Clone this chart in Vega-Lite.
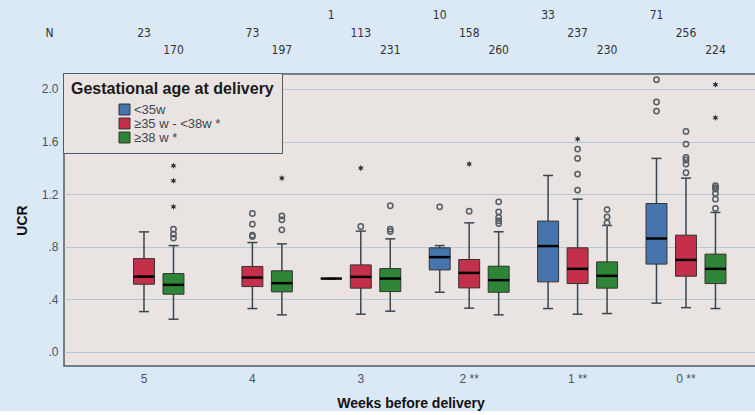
{
  "$schema": "https://vega.github.io/schema/vega-lite/v6.json",
  "background": "#dbe8f5",
  "padding": {"left": 14, "top": 0, "right": 0, "bottom": 0},
  "config": {
    "font": "Liberation Sans",
    "concat": {"spacing": 6}
  },
  "datasets": {
    "boxes": [
      {"week": 5, "group": "≥35 w - <38w *", "lo": 0.307, "q1": 0.515, "med": 0.573, "q3": 0.710, "hi": 0.913},
      {"week": 5, "group": "≥38 w *", "lo": 0.249, "q1": 0.439, "med": 0.510, "q3": 0.596, "hi": 0.809},
      {"week": 4, "group": "≥35 w - <38w *", "lo": 0.330, "q1": 0.497, "med": 0.566, "q3": 0.650, "hi": 0.832},
      {"week": 4, "group": "≥38 w *", "lo": 0.282, "q1": 0.457, "med": 0.523, "q3": 0.617, "hi": 0.822},
      {"week": 3, "group": "<35w", "lo": 0.558, "q1": 0.558, "med": 0.558, "q3": 0.558, "hi": 0.558},
      {"week": 3, "group": "≥35 w - <38w *", "lo": 0.287, "q1": 0.485, "med": 0.571, "q3": 0.662, "hi": 0.919},
      {"week": 3, "group": "≥38 w *", "lo": 0.310, "q1": 0.459, "med": 0.558, "q3": 0.634, "hi": 0.860},
      {"week": 2, "group": "<35w", "lo": 0.454, "q1": 0.624, "med": 0.721, "q3": 0.792, "hi": 0.809},
      {"week": 2, "group": "≥35 w - <38w *", "lo": 0.333, "q1": 0.487, "med": 0.601, "q3": 0.703, "hi": 0.982},
      {"week": 2, "group": "≥38 w *", "lo": 0.282, "q1": 0.454, "med": 0.546, "q3": 0.652, "hi": 0.914},
      {"week": 1, "group": "<35w", "lo": 0.330, "q1": 0.533, "med": 0.805, "q3": 0.995, "hi": 1.342},
      {"week": 1, "group": "≥35 w - <38w *", "lo": 0.287, "q1": 0.520, "med": 0.632, "q3": 0.792, "hi": 1.162},
      {"week": 1, "group": "≥38 w *", "lo": 0.292, "q1": 0.485, "med": 0.579, "q3": 0.685, "hi": 0.962},
      {"week": 0, "group": "<35w", "lo": 0.371, "q1": 0.668, "med": 0.863, "q3": 1.129, "hi": 1.472},
      {"week": 0, "group": "≥35 w - <38w *", "lo": 0.337, "q1": 0.576, "med": 0.700, "q3": 0.888, "hi": 1.322},
      {"week": 0, "group": "≥38 w *", "lo": 0.330, "q1": 0.520, "med": 0.632, "q3": 0.744, "hi": 1.061}
    ],
    "outliers": [
      {"week": 5, "group": "≥38 w *", "kind": "o", "v": 0.934},
      {"week": 5, "group": "≥38 w *", "kind": "o", "v": 0.896},
      {"week": 5, "group": "≥38 w *", "kind": "o", "v": 0.866},
      {"week": 5, "group": "≥38 w *", "kind": "*", "v": 1.416},
      {"week": 5, "group": "≥38 w *", "kind": "*", "v": 1.302},
      {"week": 5, "group": "≥38 w *", "kind": "*", "v": 1.104},
      {"week": 4, "group": "≥35 w - <38w *", "kind": "o", "v": 1.053},
      {"week": 4, "group": "≥35 w - <38w *", "kind": "o", "v": 0.972},
      {"week": 4, "group": "≥35 w - <38w *", "kind": "o", "v": 0.888},
      {"week": 4, "group": "≥35 w - <38w *", "kind": "o", "v": 0.878},
      {"week": 4, "group": "≥38 w *", "kind": "o", "v": 1.035},
      {"week": 4, "group": "≥38 w *", "kind": "o", "v": 1.005},
      {"week": 4, "group": "≥38 w *", "kind": "o", "v": 0.929},
      {"week": 4, "group": "≥38 w *", "kind": "*", "v": 1.322},
      {"week": 3, "group": "≥35 w - <38w *", "kind": "o", "v": 0.954},
      {"week": 3, "group": "≥35 w - <38w *", "kind": "*", "v": 1.398},
      {"week": 3, "group": "≥38 w *", "kind": "o", "v": 1.112},
      {"week": 3, "group": "≥38 w *", "kind": "o", "v": 0.934},
      {"week": 3, "group": "≥38 w *", "kind": "o", "v": 0.916},
      {"week": 2, "group": "<35w", "kind": "o", "v": 1.104},
      {"week": 2, "group": "≥35 w - <38w *", "kind": "o", "v": 1.071},
      {"week": 2, "group": "≥35 w - <38w *", "kind": "*", "v": 1.429},
      {"week": 2, "group": "≥38 w *", "kind": "o", "v": 1.142},
      {"week": 2, "group": "≥38 w *", "kind": "o", "v": 1.066},
      {"week": 2, "group": "≥38 w *", "kind": "o", "v": 1.023},
      {"week": 2, "group": "≥38 w *", "kind": "o", "v": 0.997},
      {"week": 2, "group": "≥38 w *", "kind": "o", "v": 0.977},
      {"week": 1, "group": "≥35 w - <38w *", "kind": "o", "v": 1.543},
      {"week": 1, "group": "≥35 w - <38w *", "kind": "o", "v": 1.472},
      {"week": 1, "group": "≥35 w - <38w *", "kind": "o", "v": 1.353},
      {"week": 1, "group": "≥35 w - <38w *", "kind": "o", "v": 1.231},
      {"week": 1, "group": "≥35 w - <38w *", "kind": "*", "v": 1.619},
      {"week": 1, "group": "≥38 w *", "kind": "o", "v": 1.083},
      {"week": 1, "group": "≥38 w *", "kind": "o", "v": 1.028},
      {"week": 1, "group": "≥38 w *", "kind": "o", "v": 0.982},
      {"week": 0, "group": "<35w", "kind": "o", "v": 2.071},
      {"week": 0, "group": "<35w", "kind": "o", "v": 1.901},
      {"week": 0, "group": "<35w", "kind": "o", "v": 1.832},
      {"week": 0, "group": "≥35 w - <38w *", "kind": "o", "v": 1.677},
      {"week": 0, "group": "≥35 w - <38w *", "kind": "o", "v": 1.581},
      {"week": 0, "group": "≥35 w - <38w *", "kind": "o", "v": 1.479},
      {"week": 0, "group": "≥35 w - <38w *", "kind": "o", "v": 1.460},
      {"week": 0, "group": "≥35 w - <38w *", "kind": "o", "v": 1.429},
      {"week": 0, "group": "≥35 w - <38w *", "kind": "o", "v": 1.363},
      {"week": 0, "group": "≥38 w *", "kind": "o", "v": 1.264},
      {"week": 0, "group": "≥38 w *", "kind": "o", "v": 1.250},
      {"week": 0, "group": "≥38 w *", "kind": "o", "v": 1.239},
      {"week": 0, "group": "≥38 w *", "kind": "o", "v": 1.205},
      {"week": 0, "group": "≥38 w *", "kind": "o", "v": 1.162},
      {"week": 0, "group": "≥38 w *", "kind": "o", "v": 1.091},
      {"week": 0, "group": "≥38 w *", "kind": "*", "v": 2.033},
      {"week": 0, "group": "≥38 w *", "kind": "*", "v": 1.781}
    ],
    "counts": [
      {"week": 5, "group": "≥35 w - <38w *", "n": 23},
      {"week": 5, "group": "≥38 w *", "n": 170},
      {"week": 4, "group": "≥35 w - <38w *", "n": 73},
      {"week": 4, "group": "≥38 w *", "n": 197},
      {"week": 3, "group": "<35w", "n": 1},
      {"week": 3, "group": "≥35 w - <38w *", "n": 113},
      {"week": 3, "group": "≥38 w *", "n": 231},
      {"week": 2, "group": "<35w", "n": 10},
      {"week": 2, "group": "≥35 w - <38w *", "n": 158},
      {"week": 2, "group": "≥38 w *", "n": 260},
      {"week": 1, "group": "<35w", "n": 33},
      {"week": 1, "group": "≥35 w - <38w *", "n": 237},
      {"week": 1, "group": "≥38 w *", "n": 230},
      {"week": 0, "group": "<35w", "n": 71},
      {"week": 0, "group": "≥35 w - <38w *", "n": 256},
      {"week": 0, "group": "≥38 w *", "n": 224}
    ]
  },
  "resolve": {"legend": {"color": "independent"}},
  "vconcat": [
    {
      "width": 693,
      "height": 65,
      "view": {"stroke": null, "fill": null},
      "data": {"name": "counts"},
      "mark": {"type": "text", "fontSize": 12, "color": "#333333", "font": "DejaVu Sans Condensed, Liberation Sans, sans-serif"},
      "encoding": {
        "x": {"field": "week", "type": "ordinal", "sort": [5, 4, 3, 2, 1, 0],
              "scale": {"paddingInner": 0.1, "paddingOuter": 0.2465, "align": 0.584},
              "axis": null},
        "xOffset": {"field": "group", "type": "nominal",
                    "scale": {"domain": ["<35w", "≥35 w - <38w *", "≥38 w *"], "paddingInner": 0.29, "paddingOuter": 0.299}},
        "y": {"field": "group", "type": "ordinal",
              "scale": {"type": "point", "domain": ["<35w", "≥35 w - <38w *", "≥38 w *"], "padding": 0.857},
              "axis": {"title": null, "domain": false, "ticks": false, "grid": false, "labelPadding": 11,
                       "labelFontSize": 12, "labelColor": "#333333", "labelFont": "DejaVu Sans Condensed, Liberation Sans, sans-serif",
                       "labelExpr": "datum.value == '≥35 w - <38w *' ? 'N' : ''"}},
        "text": {"field": "n", "type": "quantitative"}
      }
    },
    {
      "width": 693,
      "height": 292,
      "view": {"stroke": "#4d5d6a", "strokeWidth": 1.5, "fill": "#e9e3e1"},
      "encoding": {
        "x": {"field": "week", "type": "ordinal", "sort": [5, 4, 3, 2, 1, 0],
              "scale": {"paddingInner": 0.1, "paddingOuter": 0.2465, "align": 0.584},
              "axis": {"title": "Weeks before delivery", "titleFontSize": 14, "titleFontWeight": "bold", "titleColor": "#111111",
                       "titlePadding": 12, "labelAngle": 0, "labelFontSize": 12, "labelColor": "#4a5560", "labelPadding": 7,
                       "domain": false, "ticks": false, "grid": false,
                       "labelExpr": "datum.value <= 2 ? datum.value + ' **' : '' + datum.value"}},
        "xOffset": {"field": "group", "type": "nominal",
                    "scale": {"domain": ["<35w", "≥35 w - <38w *", "≥38 w *"], "paddingInner": 0.29, "paddingOuter": 0.299}}
      },
      "layer": [
        {
          "data": {"name": "boxes"},
          "mark": {"type": "rule", "color": "#3a4650", "strokeWidth": 1.5},
          "encoding": {
            "y": {"field": "lo", "type": "quantitative",
                  "scale": {"domain": [-0.107, 2.114], "nice": false, "zero": false},
                  "axis": {"values": [0, 0.4, 0.8, 1.2, 1.6, 2.0], "grid": true, "gridColor": "#b6c6d6", "gridWidth": 1,
                           "domain": false, "ticks": false, "labelPadding": 6, "labelFontSize": 12, "labelColor": "#4a5560",
                           "labelExpr": "datum.value < 1 ? slice(format(datum.value, '.1f'), 1) : format(datum.value, '.1f')",
                           "title": "UCR", "titleFontSize": 14, "titleFontWeight": "bold", "titleColor": "#111111", "titlePadding": 12}},
            "y2": {"field": "hi"}
          }
        },
        {
          "data": {"name": "boxes"},
          "mark": {"type": "point", "shape": "stroke", "filled": false, "size": 100, "stroke": "#3a4650", "strokeWidth": 1.5, "opacity": 1},
          "encoding": {"y": {"field": "hi", "type": "quantitative"}}
        },
        {
          "data": {"name": "boxes"},
          "mark": {"type": "point", "shape": "stroke", "filled": false, "size": 100, "stroke": "#3a4650", "strokeWidth": 1.5, "opacity": 1},
          "encoding": {"y": {"field": "lo", "type": "quantitative"}}
        },
        {
          "data": {"name": "boxes"},
          "mark": {"type": "bar", "stroke": "#333333", "strokeWidth": 1, "opacity": 1},
          "encoding": {
            "y": {"field": "q1", "type": "quantitative"},
            "y2": {"field": "q3"},
            "color": {"field": "group", "type": "nominal",
                      "scale": {"domain": ["<35w", "≥35 w - <38w *", "≥38 w *"], "range": ["#4674ad", "#c42f4a", "#2e8538"]},
                      "legend": {"title": "Gestational age at delivery", "orient": "none", "legendX": -1, "legendY": -1,
                                 "fillColor": "#e9e3e1", "strokeColor": "#4d5d6a", "padding": 8,
                                 "titleFontSize": 16, "titleFontWeight": "bold", "titleColor": "#1a1a1a", "titlePadding": 6,
                                 "titleLimit": 400, "labelLimit": 300,
                                 "labelFontSize": 13, "labelColor": "#3d4650", "symbolType": "square", "symbolSize": 120,
                                 "symbolStrokeColor": "#333333", "symbolStrokeWidth": 1, "rowPadding": -2,
                                 "symbolOffset": 47, "labelOffset": 3}}
          }
        },
        {
          "data": {"name": "boxes"},
          "mark": {"type": "point", "shape": "stroke", "filled": false, "size": 441, "stroke": "#000000", "strokeWidth": 2.5, "opacity": 1},
          "encoding": {"y": {"field": "med", "type": "quantitative"}}
        },
        {
          "data": {"name": "outliers"},
          "transform": [{"filter": "datum.kind == 'o'"}],
          "mark": {"type": "point", "shape": "circle", "filled": false, "size": 28, "stroke": "#555c63", "strokeWidth": 1.5, "opacity": 1},
          "encoding": {"y": {"field": "v", "type": "quantitative"}}
        },
        {
          "data": {"name": "outliers"},
          "transform": [{"filter": "datum.kind == '*'"}],
          "mark": {"type": "point", "shape": "M0,-1L0.22,-0.38L0.87,-0.5L0.44,0L0.87,0.5L0.22,0.38L0,1L-0.22,0.38L-0.87,0.5L-0.44,0L-0.87,-0.5L-0.22,-0.38Z", "filled": true, "size": 45, "color": "#2d333a", "opacity": 1},
          "encoding": {"y": {"field": "v", "type": "quantitative"}}
        }
      ]
    }
  ]
}
